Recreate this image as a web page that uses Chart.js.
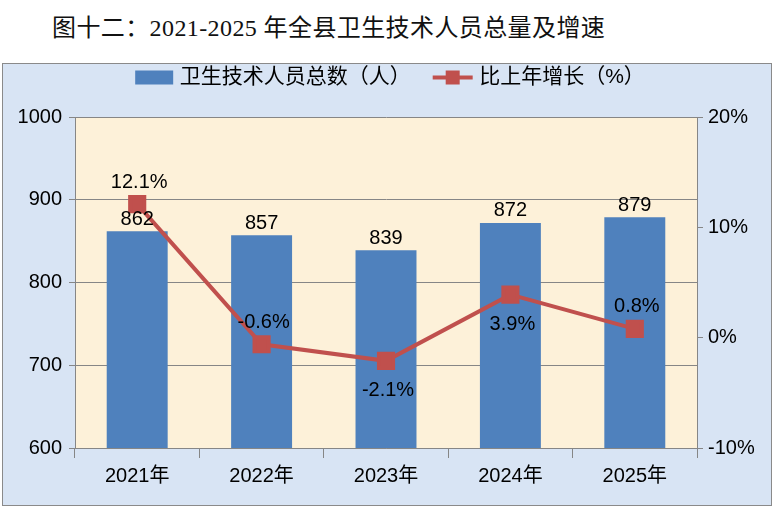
<!DOCTYPE html>
<html>
<head>
<meta charset="utf-8">
<script src="https://cdn.jsdelivr.net/npm/chart.js@4"></script>
<style>
  body { margin: 0; background: #fff; width: 776px; height: 507px; overflow: hidden; position: relative; }
  #title {
    position: absolute; left: 52px; top: 8px;
    font: 24px "Liberation Serif", "Noto Sans CJK SC", serif; color: #111; white-space: nowrap;
    letter-spacing: 0.4px;
  }
  #box {
    position: absolute; left: 2px; top: 63px; width: 768px; height: 441px;
    border: 1px solid #8a8a8a; background: #d8e4f4;
  }
  canvas { display: block; }
</style>
</head>
<body>
<div id="title">图十二：2021-2025 年全县卫生技术人员总量及增速</div>
<div id="box"><canvas id="c" width="768" height="441"></canvas></div>
<script>
// chart data
const years = ['2021年', '2022年', '2023年', '2024年', '2025年'];
const staff = [862, 857, 839, 872, 879];
const growth = [12.1, -0.6, -2.1, 3.9, 0.8];

// where each growth label sits relative to its point
const growthLabelPos = ['above', 'above', 'below', 'below', 'above'];

const FONT = "'Liberation Sans', 'Noto Sans CJK SC', sans-serif";

// legend swatches
function swatch(kind) {
    const cv = document.createElement('canvas');
    cv.width = 52; cv.height = 16;
    const g = cv.getContext('2d');
    if (kind === 'bar') {
        g.fillStyle = '#4f81bd';
        g.fillRect(12, 1, 38, 14);
    } else {
        g.fillStyle = '#c0504d';
        g.fillRect(10, 6, 40, 4);
        g.fillRect(23, 1, 14, 14);
    }
    return cv;
}

// cream plot area
const plotBg = {
    id: 'plotBg',
    beforeDraw(chart) {
        const a = chart.chartArea, ctx = chart.ctx;
        ctx.save();
        ctx.fillStyle = '#fdf1d9';
        ctx.fillRect(a.left, a.top, a.right - a.left, a.bottom - a.top);
        ctx.restore();
    }
};

// extra room under the legend
const legendGap = {
    id: 'legendGap',
    beforeInit(chart) {
        const fit = chart.legend.fit;
        chart.legend.fit = function () {
            fit.bind(chart.legend)();
            this.height += 19;
        };
    }
};

// value labels
const valueLabels = {
    id: 'valueLabels',
    afterDatasetsDraw(chart) {
        const ctx = chart.ctx;
        ctx.save();
        ctx.fillStyle = '#000';
        ctx.font = '20px ' + FONT;
        ctx.textAlign = 'center';
        chart.getDatasetMeta(0).data.forEach((bar, i) => {
            ctx.textBaseline = 'bottom';
            ctx.fillText(staff[i], bar.x, bar.y - 2);
        });
        chart.getDatasetMeta(1).data.forEach((pt, i) => {
            ctx.textBaseline = 'middle';
            const dy = growthLabelPos[i] === 'above' ? -22 : 30;
            ctx.fillText(growth[i].toFixed(1) + '%', pt.x + 2, pt.y + dy);
        });
        ctx.restore();
    }
};

const ctx = document.getElementById('c').getContext('2d');
new Chart(ctx, {
    data: {
        labels: years,
        datasets: [{
            type: 'bar',
            label: '卫生技术人员总数（人）',
            data: staff,
            backgroundColor: '#4f81bd',
            categoryPercentage: 1,
            barPercentage: 0.49,
            yAxisID: 'y',
            order: 2
        }, {
            type: 'line',
            label: '比上年增长（%）',
            data: growth,
            borderColor: '#c0504d',
            backgroundColor: '#c0504d',
            borderWidth: 4,
            pointStyle: 'rect',
            pointRadius: 10,
            pointHoverRadius: 10,
            yAxisID: 'y1',
            order: 1
        }]
    },
    options: {
        responsive: false,
        animation: false,
        layout: { padding: { top: -15 } },
        scales: {
            x: {
                grid: { offset: true, drawOnChartArea: false, tickLength: 10, color: '#868686' },
                border: { color: '#868686' },
                ticks: { color: '#000', font: { size: 20, family: FONT }, padding: 6 },
                afterFit(s) { s.height = 57; }
            },
            y: {
                position: 'left',
                min: 600, max: 1000,
                ticks: { stepSize: 100, color: '#000', font: { size: 20, family: FONT }, padding: 7,
                         callback: v => String(v) },
                grid: { color: '#868686', tickLength: 6 },
                border: { color: '#868686' },
                afterFit(s) { s.width = 72; }
            },
            y1: {
                position: 'right',
                min: -10, max: 20,
                ticks: { stepSize: 10, color: '#000', font: { size: 20, family: FONT }, padding: 5,
                         callback: v => v + '%' },
                grid: { drawOnChartArea: false, color: '#868686', tickLength: 6 },
                border: { color: '#868686' },
                afterFit(s) { s.width = 74; }
            }
        },
        plugins: {
            legend: {
                position: 'top',
                labels: {
                    usePointStyle: true,
                    pointStyleWidth: 40,
                    color: '#000',
                    font: { size: 21, family: FONT },
                    padding: 18,
                    sort: (a, b) => a.datasetIndex - b.datasetIndex,
                    generateLabels(chart) {
                        const items = Chart.defaults.plugins.legend.labels.generateLabels(chart);
                        items.forEach(it => { it.pointStyle = swatch(it.datasetIndex === 0 ? 'bar' : 'line'); });
                        return items;
                    }
                }
            },
            tooltip: { enabled: false }
        }
    },
    plugins: [plotBg, legendGap, valueLabels]
});
</script>
</body>
</html>
